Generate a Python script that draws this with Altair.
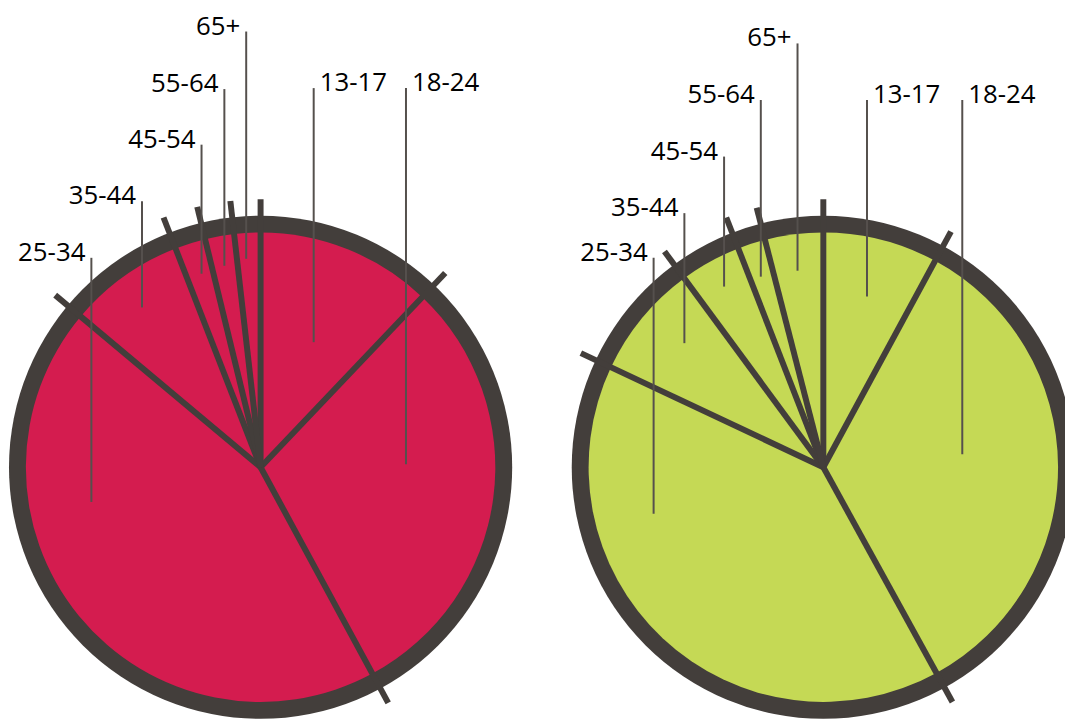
import math
import altair as alt
import pandas as pd

# ---------------- data ----------------
ages = ["13-17", "18-24", "25-34", "35-44", "45-54", "55-64", "65+"]
pies = ["A", "B"]
share_a = [12.1, 30.0, 44.0, 8.0, 2.1, 2.0, 1.8]
share_b = [7.9, 34.1, 40.0, 7.9, 4.2, 1.9, 4.0]

# ---------------- layout (pixels) ----------------
W, H = 1065, 714
centers = {"A": (254.5, 460.0), "B": (821.5, 460.0)}
R_OUT = 253.5
R_IN = 236.5
R_TICK = 270
fill_colors = ["#D41C4F", "#C5D955"]
DARK = "#433E3B"
LEAD = "#55504D"

# label leader lines, offsets from pie centre: x, top, bottom
lead_dx = {"A": [53.5, 146.5, -170.5, -119.5, -59.5, -36.5, -14.5],
           "B": [44, 140, -171, -140, -100, -63, -26]}
lead_top = {"A": [-382, -382, -211, -268, -325, -381, -439],
            "B": [-370, -370, -211, -256, -313, -370, -427]}
lead_bot = {"A": [-126, -3, 35, -161, -195, -203, -210],
            "B": [-172, -13, 47, -125, -182, -192, -198]}

rows = []
for pie, shares in zip(pies, [share_a, share_b]):
    cx, cy = centers[pie]
    total = sum(shares)
    cum = 0.0
    for i, (age, v) in enumerate(zip(ages, shares)):
        t0 = 2 * math.pi * cum / total
        cum += v
        t1 = 2 * math.pi * cum / total
        dx = lead_dx[pie][i]
        rows.append(dict(
            pie=pie, age=age, order=i, share=v, cx=cx, cy=cy, t0=t0, t1=t1,
            sx=cx + R_TICK * math.sin(t0), sy=cy - R_TICK * math.cos(t0),
            lx=cx + dx, ly1=cy + lead_top[pie][i], ly2=cy + lead_bot[pie][i],
            tx=cx + dx + (6 if dx > 0 else -6), ty=cy + lead_top[pie][i] + 3,
            side="right" if dx > 0 else "left",
        ))
df = pd.DataFrame(rows)
pdf = pd.DataFrame({"pie": pies,
                    "cx": [centers[p][0] for p in pies],
                    "cy": [centers[p][1] for p in pies]})

xs = alt.Scale(domain=[0, W], nice=False, zero=False)
ys = alt.Scale(domain=[0, H], nice=False, zero=False, reverse=True)

def X(f):
    return alt.X(f"{f}:Q", scale=xs, axis=None)

def Y(f):
    return alt.Y(f"{f}:Q", scale=ys, axis=None)

border = alt.Chart(pdf).mark_arc(radius=R_OUT, color=DARK).encode(
    x=X("cx"), y=Y("cy"),
    theta=alt.value(0), theta2=alt.value(2 * math.pi),
)

slices = alt.Chart(df).mark_arc(radius=R_IN).encode(
    x=X("cx"), y=Y("cy"),
    theta=alt.Theta("t0:Q", scale=None), theta2=alt.Theta2("t1"),
    color=alt.Color("pie:N", scale=alt.Scale(domain=pies, range=fill_colors), legend=None),
)

seps = alt.Chart(df).mark_rule(strokeWidth=6, color=DARK, strokeCap="butt").encode(
    x=X("cx"), y=Y("cy"), x2="sx:Q", y2="sy:Q",
)

leaders = alt.Chart(df).mark_rule(strokeWidth=2, color=LEAD).encode(
    x=X("lx"), y=Y("ly1"), y2="ly2:Q",
)

txt_left = alt.Chart(df).transform_filter(alt.datum.side == "left").mark_text(
    align="right", baseline="alphabetic", font="Open Sans", fontSize=26, color="#000000"
).encode(x=X("tx"), y=Y("ty"), text="age:N")

txt_right = alt.Chart(df).transform_filter(alt.datum.side == "right").mark_text(
    align="left", baseline="alphabetic", font="Open Sans", fontSize=26, color="#000000"
).encode(x=X("tx"), y=Y("ty"), text="age:N")

chart = alt.layer(border, slices, seps, leaders, txt_left, txt_right).properties(
    width=W, height=H, padding=0, autosize="none", background="white"
).configure_view(stroke=None)

chart.save("out.html", embed_options={"renderer": "svg", "actions": False})
